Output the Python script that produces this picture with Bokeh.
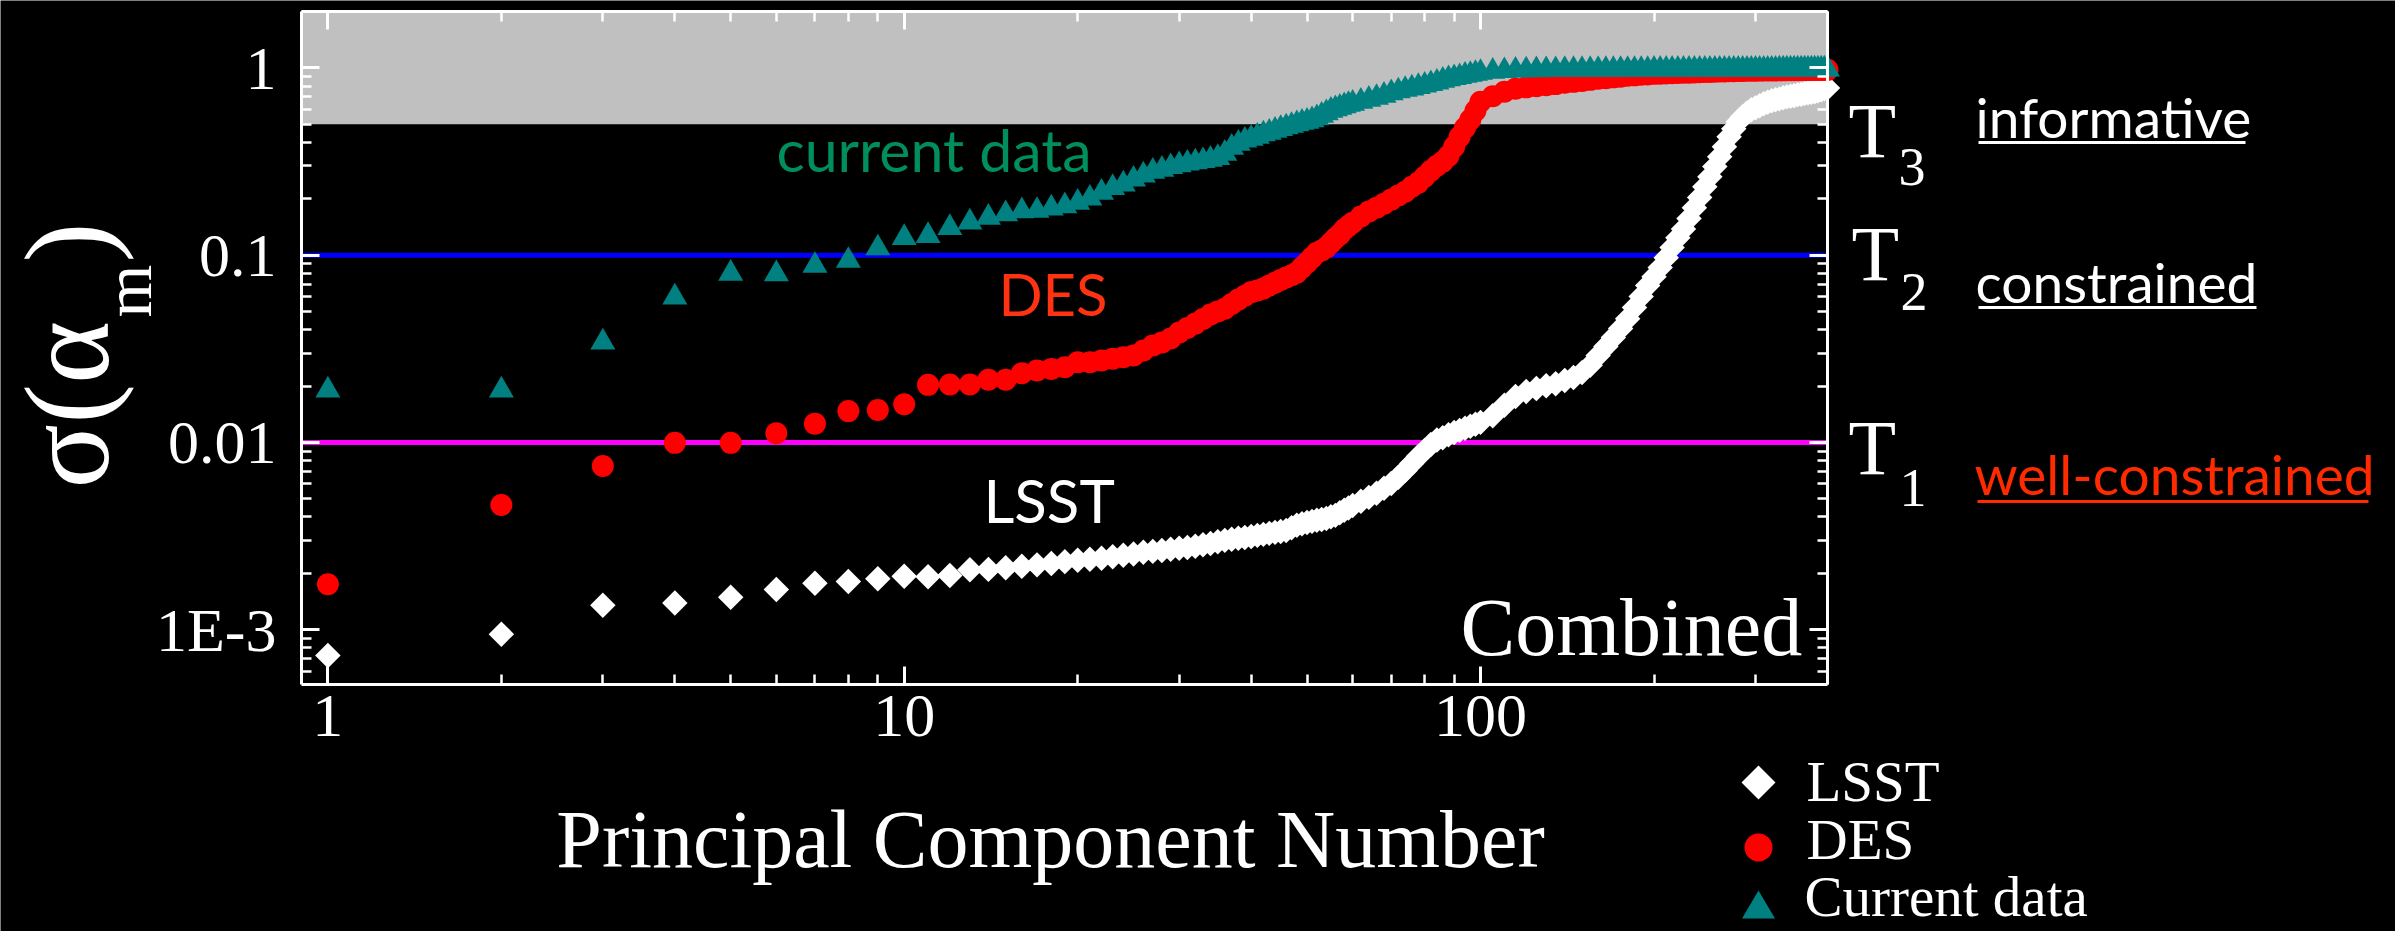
import numpy as np
from bokeh.plotting import figure
from bokeh.models import (Range1d, LogAxis, FixedTicker, CustomJSTickFormatter,
                          BoxAnnotation, Label, PolyAnnotation)
from bokeh.embed import file_html
from bokeh.resources import INLINE

# ---------------------------------------------------------------- data
# principal component number (every component up to 60, then sampled)
component = list(range(1, 61)) + list(range(62, 101, 2)) + list(range(105, 401, 5))

# sigma(alpha_m) for the combined LSST forecast
sigma_lsst = [
    7.28e-4, 9.47e-4, 1.35e-3, 1.39e-3, 1.49e-3, 1.64e-3, 1.77e-3, 1.81e-3, 1.87e-3, 1.93e-3,
    1.92e-3, 1.95e-3, 2.09e-3, 2.10e-3, 2.14e-3, 2.18e-3, 2.22e-3, 2.26e-3, 2.31e-3, 2.35e-3,
    2.38e-3, 2.41e-3, 2.45e-3, 2.50e-3, 2.54e-3, 2.59e-3, 2.62e-3, 2.65e-3, 2.69e-3, 2.72e-3,
    2.75e-3, 2.79e-3, 2.84e-3, 2.89e-3, 2.95e-3, 3.00e-3, 3.04e-3, 3.08e-3, 3.11e-3, 3.15e-3,
    3.19e-3, 3.23e-3, 3.27e-3, 3.31e-3, 3.35e-3, 3.39e-3, 3.50e-3, 3.61e-3, 3.68e-3, 3.74e-3,
    3.79e-3, 3.84e-3, 3.88e-3, 3.93e-3, 4.01e-3, 4.08e-3, 4.21e-3, 4.34e-3, 4.47e-3, 4.61e-3,
    4.85e-3, 5.09e-3, 5.35e-3, 5.69e-3, 6.04e-3, 6.51e-3, 7.09e-3, 7.73e-3, 8.42e-3, 9.07e-3,
    9.76e-3, 0.0103, 0.0106, 0.0110, 0.0113, 0.0116, 0.0119, 0.0122, 0.0125, 0.0128,
    0.0139, 0.0158, 0.0176, 0.0187, 0.0194, 0.0201, 0.0206, 0.0214, 0.0222, 0.0236,
    0.0258, 0.0291, 0.0325, 0.0363, 0.0406, 0.0458, 0.0525, 0.0601, 0.0688, 0.0768,
    0.0858, 0.0970, 0.110, 0.124, 0.138, 0.157, 0.179, 0.203, 0.232, 0.262,
    0.297, 0.335, 0.379, 0.429, 0.473, 0.515, 0.548, 0.575, 0.597, 0.612,
    0.627, 0.643, 0.655, 0.667, 0.675, 0.683, 0.692, 0.700, 0.705, 0.709,
    0.718, 0.722, 0.729, 0.736, 0.740, 0.745, 0.754, 0.763, 0.773, 0.782,
]

# sigma(alpha_m) for the combined DES forecast
sigma_des = [
    1.75e-3, 4.64e-3, 7.48e-3, 9.95e-3, 9.95e-3, 0.0112, 0.0126, 0.0147, 0.0149, 0.0160,
    0.0203, 0.0204, 0.0204, 0.0216, 0.0216, 0.0234, 0.0242, 0.0247, 0.0252, 0.0268,
    0.0268, 0.0274, 0.0280, 0.0285, 0.0291, 0.0310, 0.0329, 0.0342, 0.0359, 0.0386,
    0.0408, 0.0431, 0.0456, 0.0482, 0.0500, 0.0518, 0.0548, 0.0579, 0.0608, 0.0635,
    0.0647, 0.0663, 0.0688, 0.0713, 0.0736, 0.0759, 0.0782, 0.0807, 0.0858, 0.0912,
    0.0970, 0.103, 0.106, 0.110, 0.116, 0.123, 0.129, 0.137, 0.143, 0.149,
    0.161, 0.171, 0.179, 0.188, 0.198, 0.208, 0.218, 0.232, 0.244, 0.262,
    0.282, 0.300, 0.315, 0.339, 0.379, 0.429, 0.479, 0.528, 0.590, 0.659,
    0.705, 0.745, 0.773, 0.787, 0.797, 0.807, 0.819, 0.832, 0.842, 0.852,
    0.863, 0.874, 0.881, 0.890, 0.898, 0.907, 0.912, 0.918, 0.923, 0.929,
    0.931, 0.934, 0.936, 0.938, 0.941, 0.943, 0.945, 0.947, 0.950, 0.952,
    0.954, 0.956, 0.957, 0.959, 0.960, 0.962, 0.963, 0.965, 0.966, 0.966,
    0.967, 0.968, 0.968, 0.969, 0.969, 0.970, 0.970, 0.971, 0.971, 0.972,
    0.972, 0.973, 0.973, 0.974, 0.974, 0.974, 0.975, 0.975, 0.976, 0.976,
]

# sigma(alpha_m) from current data
sigma_current = [
    0.0190, 0.0190, 0.0343, 0.0596, 0.0798, 0.0794, 0.0880, 0.0935, 0.109, 0.124,
    0.127, 0.140, 0.150, 0.159, 0.166, 0.172, 0.173, 0.178, 0.183, 0.191,
    0.201, 0.216, 0.229, 0.239, 0.254, 0.267, 0.280, 0.287, 0.296, 0.303,
    0.309, 0.314, 0.319, 0.324, 0.331, 0.349, 0.376, 0.395, 0.410, 0.420,
    0.430, 0.443, 0.452, 0.463, 0.473, 0.483, 0.492, 0.502, 0.511, 0.517,
    0.527, 0.540, 0.557, 0.574, 0.592, 0.603, 0.614, 0.626, 0.637, 0.645,
    0.661, 0.678, 0.694, 0.712, 0.734, 0.752, 0.766, 0.779, 0.793, 0.807,
    0.822, 0.837, 0.856, 0.872, 0.885, 0.896, 0.910, 0.921, 0.932, 0.944,
    0.956, 0.964, 0.970, 0.973, 0.975, 0.976, 0.976, 0.977, 0.977, 0.977,
    0.978, 0.978, 0.978, 0.978, 0.979, 0.979, 0.979, 0.979, 0.979, 0.980,
    0.980, 0.980, 0.980, 0.980, 0.980, 0.980, 0.981, 0.981, 0.981, 0.981,
    0.981, 0.981, 0.981, 0.981, 0.981, 0.982, 0.982, 0.982, 0.982, 0.982,
    0.982, 0.982, 0.982, 0.982, 0.982, 0.983, 0.983, 0.983, 0.983, 0.983,
    0.983, 0.983, 0.983, 0.983, 0.983, 0.984, 0.984, 0.984, 0.984, 0.984,
]

x_ticks = [1, 10, 100]
x_tick_labels = ["1", "10", "100"]
y_ticks = [1e-3, 1e-2, 1e-1, 1.0]
y_tick_labels = ["1E-3", "0.01", "0.1", "1"]

# threshold levels: well-constrained, constrained, informative
t1_level, t2_level, t3_level = 0.01, 0.1, 0.5

# ---------------------------------------------------------------- layout
W, H = 2395, 931
FL, FR, FT, FB = 301, 1827, 11, 684          # edges of the axes box on the canvas
x_lo, x_hi = 0.9, 400.0                      # axes box limits
y_lo, y_hi = 5.1e-4, 2.0

SERIF = "Liberation Serif"
SANS = "Lato"
# distance from the text middle to the alphabetic baseline, in em
MID_TO_BASE = {SERIF: 0.3375, SANS: 0.387}

# the plotting frame spans the whole canvas; the box is drawn by axes at fixed locations
dec_x = (FR - FL) / (np.log10(x_hi) - np.log10(x_lo))
dec_y = (FB - FT) / (np.log10(y_hi) - np.log10(y_lo))
x_range = Range1d(10 ** (np.log10(x_lo) - FL / dec_x), 10 ** (np.log10(x_hi) + (W - FR) / dec_x))
y_range = Range1d(10 ** (np.log10(y_lo) - (H - FB) / dec_y), 10 ** (np.log10(y_hi) + FT / dec_y))

p = figure(width=W, height=H, x_axis_type="log", y_axis_type="log",
           x_range=x_range, y_range=y_range,
           output_backend="svg", toolbar_location=None,
           min_border=0, min_border_left=0, min_border_right=0,
           min_border_top=0, min_border_bottom=0,
           background_fill_color="black", border_fill_color="black",
           outline_line_color=None)
p.grid.visible = False

x_ticker = FixedTicker(ticks=x_ticks,
                       minor_ticks=[m * 10 ** e for e in range(0, 3) for m in range(2, 10)
                                    if m * 10 ** e <= x_hi])
y_ticker = FixedTicker(ticks=y_ticks,
                       minor_ticks=[m * 10.0 ** e for e in range(-4, 1) for m in range(2, 10)
                                    if y_lo <= m * 10.0 ** e <= y_hi])

fmt_code = """
const i = tick_values.findIndex(t => Math.abs(Math.log10(t) - Math.log10(tick)) < 1e-6);
return i >= 0 ? tick_labels[i] : "";
"""
x_fmt = CustomJSTickFormatter(args=dict(tick_values=x_ticks, tick_labels=x_tick_labels),
                              code=fmt_code)
y_fmt = CustomJSTickFormatter(args=dict(tick_values=y_ticks, tick_labels=y_tick_labels),
                              code=fmt_code)
blank_fmt = CustomJSTickFormatter(code='return "";')


def style_axis(ax, labelled):
    ax.axis_line_color = "white"
    ax.axis_line_width = 3
    ax.major_tick_line_color = "white"
    ax.major_tick_line_width = 3
    ax.minor_tick_line_color = "white"
    ax.minor_tick_line_width = 2.5
    ax.major_tick_in = 18
    ax.major_tick_out = 0
    ax.minor_tick_in = 10
    ax.minor_tick_out = 0
    if labelled:
        ax.major_label_text_font = SERIF
        ax.major_label_text_font_size = "62px"
        ax.major_label_text_color = "white"
    else:
        ax.major_label_text_font_size = "0px"
        ax.major_label_standoff = 0


xax = p.xaxis[0]
xax.ticker = x_ticker
xax.formatter = x_fmt
xax.fixed_location = y_lo
xax.bounds = (x_lo, x_hi)
style_axis(xax, True)
xax.major_label_standoff = 11

yax = p.yaxis[0]
yax.ticker = y_ticker
yax.formatter = y_fmt
yax.fixed_location = x_lo
yax.bounds = (y_lo, y_hi)
style_axis(yax, True)
yax.major_label_standoff = 25

top_ax = LogAxis(ticker=x_ticker, formatter=blank_fmt, fixed_location=y_hi, bounds=(x_lo, x_hi))
style_axis(top_ax, False)
p.add_layout(top_ax, "above")
right_ax = LogAxis(ticker=y_ticker, formatter=blank_fmt, fixed_location=x_hi, bounds=(y_lo, y_hi))
style_axis(right_ax, False)
p.add_layout(right_ax, "right")

# informative region and threshold lines
p.add_layout(BoxAnnotation(left=x_lo, right=x_hi, bottom=t3_level, top=y_hi,
                           fill_color="#c0c0c0", fill_alpha=1.0,
                           line_color=None, level="underlay"))
p.segment(x0=[x_lo, x_lo], x1=[x_hi, x_hi], y0=[t2_level, t1_level], y1=[t2_level, t1_level],
          line_color=["#0000ff", "#ff00ff"], line_width=5)

# data series
p.scatter(component, sigma_lsst, marker="square", size=18, angle=np.pi / 4,
          fill_color="white", line_color=None)
p.scatter(component, sigma_des, marker="circle", size=22,
          fill_color="#ff0000", line_color=None)
p.scatter(component, sigma_current, marker="triangle", size=25,
          fill_color="#008080", line_color=None)


def sx(cx):
    return cx


def sy(cy):
    return H - cy


def text(t, cx, base_y, size, color="white", font=SERIF, align="left"):
    """Horizontal text whose alphabetic baseline sits at canvas row base_y."""
    mid_y = base_y - MID_TO_BASE[font] * size
    p.add_layout(Label(x=sx(cx), y=sy(mid_y), x_units="screen", y_units="screen",
                       text=t, text_font=font, text_font_size=f"{size}px",
                       text_color=color, text_align=align, text_baseline="middle"))


def vtext(t, base_x, cy, size, color="white", font=SERIF):
    """Text reading bottom to top, starting at canvas row cy, baseline at column base_x."""
    mid_x = base_x - MID_TO_BASE[font] * size
    p.add_layout(Label(x=sx(mid_x), y=sy(cy), x_units="screen", y_units="screen",
                       text=t, text_font=font, text_font_size=f"{size}px",
                       text_color=color, text_align="left", text_baseline="middle",
                       angle=np.pi / 2))


def underline(cx0, cx1, cy, color):
    p.add_layout(BoxAnnotation(left=sx(cx0), right=sx(cx1), top=sy(cy - 1.5), bottom=sy(cy + 1.5),
                               left_units="screen", right_units="screen",
                               top_units="screen", bottom_units="screen",
                               fill_color=color, fill_alpha=1.0, line_color=None))


# axis titles
text("Principal Component Number", 1050, 867, 82, align="center")
vtext("σ(α", 107, 488, 120)
vtext("m", 150, 317, 68)
vtext(")", 107, 262, 120)

# series names inside the box
text("current data", 776, 172, 59, color="#008f5c", font=SANS)
text("DES", 998, 315, 58, color="#ff3311", font=SANS)
text("LSST", 983, 523, 60, font=SANS)
text("Combined", 1460, 655, 82)

# threshold names on the right
text("T", 1848, 156, 78)
text("3", 1898, 185, 54)
text("T", 1851, 279, 78)
text("2", 1900, 310, 54)
text("T", 1848, 473, 78)
text("1", 1899, 506, 54)

text("informative", 1975, 138, 55, font=SANS)
underline(1978, 2245, 142, "white")
text("constrained", 1975, 303, 55, font=SANS)
underline(1978, 2256, 307, "white")
text("well-constrained", 1974, 495, 55, color="#ff2a00", font=SANS)
underline(1977, 2368, 501, "#ff2a00")

# legend
lx = 1758
d = 17
p.add_layout(PolyAnnotation(xs=[sx(lx - d), sx(lx), sx(lx + d), sx(lx)],
                            ys=[sy(782), sy(782 - d), sy(782), sy(782 + d)],
                            xs_units="screen", ys_units="screen",
                            fill_color="white", fill_alpha=1.0, line_color=None))
theta = np.linspace(0, 2 * np.pi, 49)[:-1]
p.add_layout(PolyAnnotation(xs=list(sx(lx + 14 * np.cos(theta))),
                            ys=list(sy(847 + 14 * np.sin(theta))),
                            xs_units="screen", ys_units="screen",
                            fill_color="#ff0000", fill_alpha=1.0, line_color=None))
p.add_layout(PolyAnnotation(xs=[sx(lx - 16.5), sx(lx + 16.5), sx(lx)],
                            ys=[sy(918), sy(918), sy(890)],
                            xs_units="screen", ys_units="screen",
                            fill_color="#008080", fill_alpha=1.0, line_color=None))
text("LSST", 1806, 800, 57)
text("DES", 1806, 858, 57)
text("Current data", 1804, 915, 57)

open("out.html", "w").write(file_html(p, INLINE))
